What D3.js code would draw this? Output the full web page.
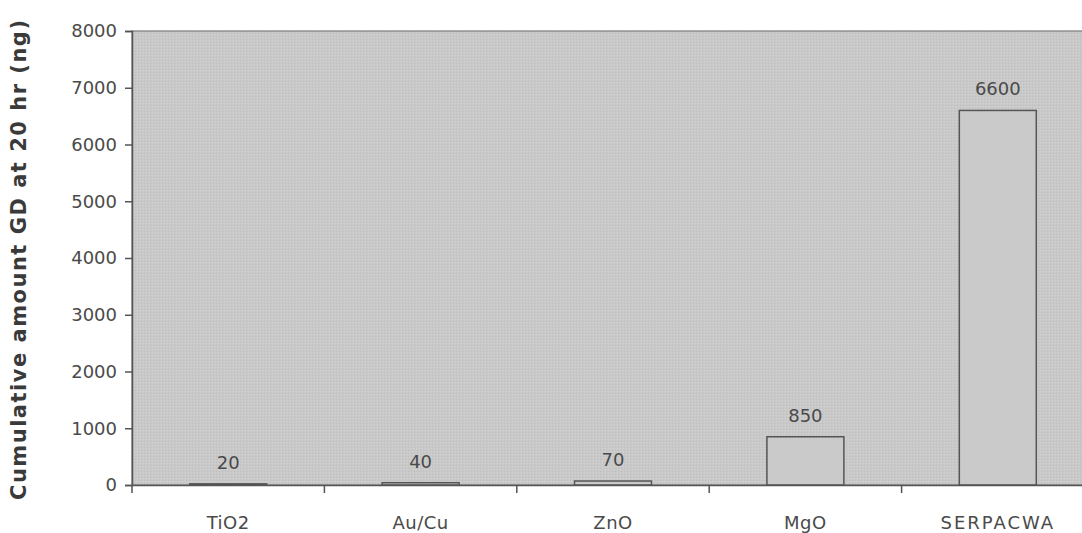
<!DOCTYPE html>
<html><head><meta charset="utf-8">
<script src="https://cdn.jsdelivr.net/npm/d3@7"></script>
<style>body{margin:0;background:#fff;} svg{display:block;}</style>
</head><body>
<script>
const categories = ["TiO2", "Au/Cu", "ZnO", "MgO", "SERPACWA"];
const values = [20, 40, 70, 850, 6600];
const yTicks = [0, 1000, 2000, 3000, 4000, 5000, 6000, 7000, 8000];
const yTitle = "Cumulative amount GD at 20 hr (ng)";

const W = 1082, H = 533;
const m = {left: 132, top: 31, right: -12, bottom: 48};
const FONT = "DejaVu Sans, sans-serif";
const svg = d3.select("body").append("svg").attr("width", W).attr("height", H);

const defs = svg.append("defs");
const pat = defs.append("pattern").attr("id", "dots").attr("width", 3).attr("height", 3)
  .attr("patternUnits", "userSpaceOnUse");
pat.append("rect").attr("width", 3).attr("height", 3).attr("fill", "#c9c9c9");
pat.append("rect").attr("x", 0).attr("y", 0).attr("width", 1).attr("height", 1).attr("fill", "#bebebe");
pat.append("rect").attr("x", 2).attr("y", 1).attr("width", 1).attr("height", 1).attr("fill", "#d2d2d2");

const x = d3.scaleBand().domain(categories).range([m.left, W - m.right]).paddingInner(0).paddingOuter(0);
const y = d3.scaleLinear().domain([0, 8000]).range([H - m.bottom, m.top]);

// plot background
svg.append("rect").attr("x", m.left).attr("y", m.top)
  .attr("width", (W - m.right) - m.left).attr("height", y(0) - m.top)
  .attr("fill", "url(#dots)").attr("stroke", "#7a7a7a").attr("stroke-width", 1.2);

// bars
const bw = x.bandwidth() * 0.4;
svg.selectAll("rect.bar").data(values).join("rect").attr("class", "bar")
  .attr("x", (d, i) => x(categories[i]) + x.bandwidth() / 2 - bw / 2)
  .attr("y", d => y(d))
  .attr("width", bw)
  .attr("height", d => y(0) - y(d))
  .attr("fill", "#cacaca")
  .attr("stroke", "#555")
  .attr("stroke-width", 1.5);

// value labels
svg.selectAll("text.val").data(values).join("text").attr("class", "val")
  .attr("x", (d, i) => x(categories[i]) + x.bandwidth() / 2)
  .attr("y", d => y(d) - 15)
  .attr("text-anchor", "middle")
  .attr("font-family", FONT).attr("font-size", 18)
  .attr("fill", "#4a4a4a").text(d => d);

// y axis
const yAxis = d3.axisLeft(y).tickValues(yTicks).tickSize(7).tickPadding(8).tickFormat(d3.format("d"));
const gy = svg.append("g").attr("transform", `translate(${m.left},0)`).call(yAxis);
gy.select(".domain").attr("stroke", "#555").attr("stroke-width", 1.5);
gy.selectAll(".tick line").attr("stroke", "#555").attr("stroke-width", 1.5);
gy.selectAll(".tick text").attr("font-family", FONT).attr("font-size", 18).attr("fill", "#4a4a4a");

// x axis
const xAxis = d3.axisBottom(x).tickSize(0).tickPadding(31);
const gx = svg.append("g").attr("transform", `translate(0,${y(0)})`).call(xAxis);
gx.select(".domain").attr("stroke", "#555").attr("stroke-width", 1.5);
gx.selectAll(".tick text").attr("font-family", FONT).attr("font-size", 18).attr("fill", "#4a4a4a")
  .attr("letter-spacing", d => d === "SERPACWA" ? 2 : 0.5);
// band boundary ticks
svg.append("g").selectAll("line").data(categories).join("line")
  .attr("x1", d => x(d)).attr("x2", d => x(d))
  .attr("y1", y(0)).attr("y2", y(0) + 8)
  .attr("stroke", "#555").attr("stroke-width", 1.5);

// y title
svg.append("text")
  .attr("transform", `translate(26,${(20 + 500) / 2}) rotate(-90)`)
  .attr("text-anchor", "middle")
  .attr("font-family", FONT).attr("font-weight", "bold")
  .attr("font-size", 21).attr("fill", "#3a3a3a")
  .attr("textLength", 480).attr("lengthAdjust", "spacing")
  .text(yTitle);
</script>
</body></html>
